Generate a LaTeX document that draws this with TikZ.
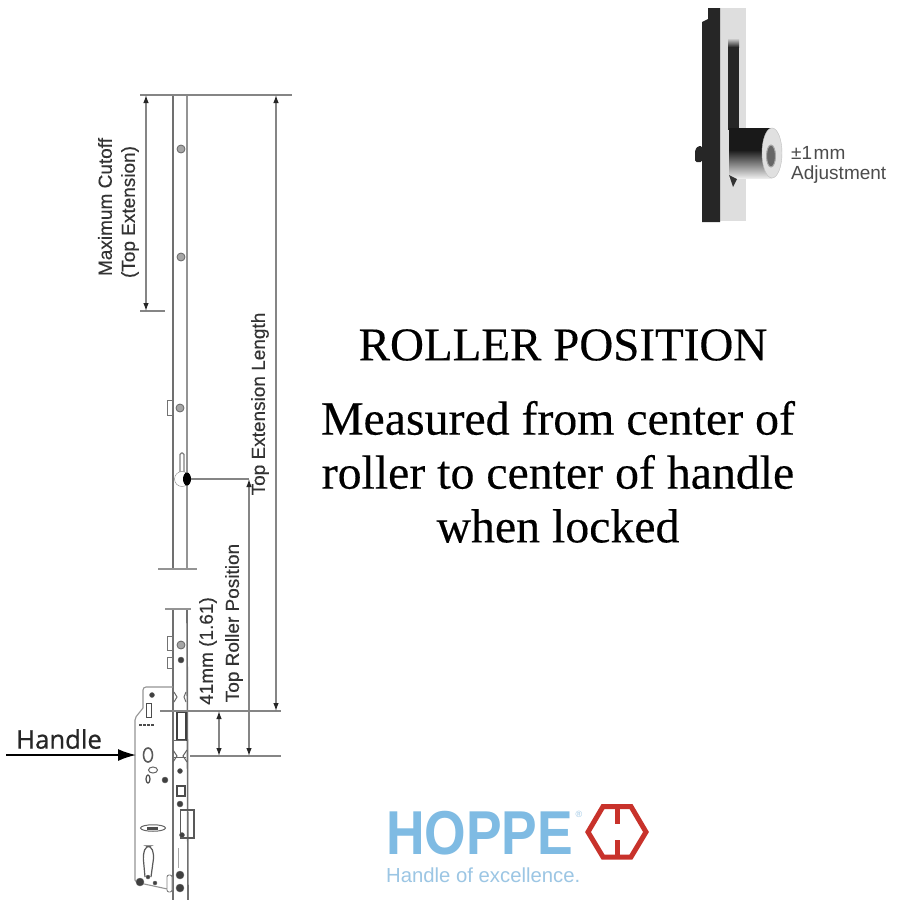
\documentclass[tikz,border=0pt]{standalone}
\usepackage{fontspec}
\setmainfont[FakeBold=0.25]{Liberation Serif}
\newfontfamily\arial{Liberation Sans}
\newfontfamily\arialm[FakeBold=0.3]{Liberation Sans}
\newfontfamily\handlefont[FakeBold=0.7]{Open Sans}
\usetikzlibrary{arrows.meta,shapes.geometric}
\definecolor{railc}{HTML}{707070}
\definecolor{dimc}{HTML}{858585}
\definecolor{labc}{HTML}{333333}
\definecolor{logob}{HTML}{7FBBE3}
\definecolor{logot}{HTML}{9CC6E4}
\definecolor{logor}{HTML}{C8322B}
\tikzset{
  rail/.style={draw=railc,line width=1.6pt},
  thin rail/.style={draw=railc!75,line width=1.1pt},
  dimline/.style={draw=dimc,line width=1.2pt},
  dimarrow/.style={dimline,{Latex[length=8pt,width=5.5pt,black!85]}-{Latex[length=8pt,width=5.5pt,black!85]}},
  dimlabel/.style={font=\arialm\fontsize{19}{21}\selectfont,text=labc,rotate=90,inner sep=0pt},
  screw/.style={draw=black!60,fill=black!35,line width=.8pt,circle,minimum size=8pt,inner sep=0pt},
  darkdot/.style={fill=black!75,draw=black!60,circle,minimum size=6pt,inner sep=0pt},
  clip rect/.style={draw=black!55,fill=white,line width=.8pt,minimum width=5.5pt,minimum height=15pt,inner sep=0pt},
  headline/.style={font=\fontsize{47}{50}\selectfont,text=black,inner sep=0pt},
  bodyline/.style={font=\fontsize{47.8}{50}\selectfont,text=black,inner sep=0pt},
  adjlabel/.style={font=\arial\fontsize{19}{21}\selectfont,text=black!70,anchor=west,inner sep=0pt},
}
\begin{document}
\begin{tikzpicture}[x=1pt,y=-1pt]
\useasboundingbox (0,0) rectangle (900,900);
\fill[white] (0,0) rectangle (900,900);

% --- coordinates of the rail and dimension lines
\coordinate (topL) at (173,95);
\coordinate (topR) at (187,95);
\coordinate (brk1L) at (173,570);
\coordinate (brk1R) at (187,570);
\coordinate (brk2L) at (173,609);
\coordinate (brk2R) at (187,609);
\coordinate (botL) at (173,900);
\coordinate (botR) at (188,900);
\coordinate (lineTopA) at (140,95);
\coordinate (lineTopB) at (292,95);
\coordinate (cutEndA) at (140,311);
\coordinate (cutEndB) at (165,311);
\coordinate (d41A) at (160,711);
\coordinate (d41B) at (281,711);
\coordinate (hdlA) at (190,756);
\coordinate (hdlB) at (281,756);
\coordinate (dimCutT) at (146,95);
\coordinate (dimCutB) at (146,311);
\coordinate (dimLenT) at (276,95);
\coordinate (dimLenB) at (276,711);
\coordinate (dimRolT) at (249,479);
\coordinate (dimRolB) at (249,756);
\coordinate (dim41T) at (219,711);
\coordinate (dim41B) at (219,756);
\coordinate (hdlStart) at (6,755);

% --- rail
\draw[rail] (topL) -- (brk1L);
\draw[thin rail] (topR) -- (brk1R);
\draw[rail] (brk2L) -- (botL);
\draw[rail] (brk2R) -- (botR);
\draw[thin rail] (158,569) -- (197,569);
\draw[thin rail] (165,609) -- (191,609);

% --- upper rail hardware
\node[screw] (s1) at (181,149) {};
\node[screw] (s2) at (181,257) {};
\node[screw] (s3) at (180,408) {};
\node[clip rect] (c1) at (170,408) {};
\draw[line width=1.2pt,draw=black!50,rounded corners=1.5pt] (180,475) -- (180,453) -- (184,453) -- (184,475);
\node[circle,draw=black!50,fill=white,minimum size=15pt,inner sep=0pt] (roller) at (182,479) {};
\node[ellipse,fill=black,minimum width=8pt,minimum height=13pt,inner sep=0pt] (rollerEnd) at (187,479) {};

% --- lower rail hardware
\node[clip rect,minimum height=14pt] (c2) at (170,643) {};
\node[clip rect,minimum height=11pt] (c3) at (170,663) {};
\node[screw] (s4) at (181,645) {};
\node[darkdot] (s5) at (181,660) {};
\node[darkdot,minimum size=5pt] (s6) at (152,695) {};

% --- lock case
\draw[thin rail,rounded corners=3pt] (173,687) -- (143,687) -- (143,708);
\draw[thin rail,rounded corners=2pt] (143,708) -- (135,718) -- (135,882) -- (172,890);
\draw[draw=black!70,line width=1pt,fill=white] (146,703) rectangle (151,717);
\draw[draw=black!70,line width=2pt,dash pattern=on 3pt off 1pt] (139,725) -- (154,725);
\draw[draw=black!75,line width=1.3pt] (177,712) rectangle (186,740);
\draw[draw=black!60,line width=1pt] (174,740) -- (186,740) (174,757) -- (186,757);
\draw[draw=black!60,line width=1pt] (173,750) -- (177,756) -- (173,762) (187,750) -- (183,756) -- (187,762);
\draw[draw=black!60,line width=1pt] (174,692) -- (177,697) -- (174,702) (186,692) -- (184,697) -- (186,702);
\node[ellipse,draw=black!65,line width=1.6pt,minimum width=9pt,minimum height=14pt,inner sep=0pt] (spindle) at (148,755) {};
\node[ellipse,draw=black!60,line width=1pt,minimum width=9pt,minimum height=6pt,inner sep=0pt] (e1) at (153,770) {};
\node[ellipse,draw=black!70,line width=1.2pt,minimum width=4pt,minimum height=8pt,inner sep=0pt] (e2) at (148,779) {};
\node[darkdot] (e3) at (165,780) {};
\node[darkdot,minimum size=5pt] (h1) at (180,771) {};
\draw[draw=black!70,line width=1.2pt] (177,786) rectangle (185,796);
\node[darkdot,minimum size=6pt] (h2) at (180,804) {};
\draw[draw=black!65,line width=1.1pt] (180,810) -- (194,810) -- (194,838) -- (180,838);
\draw[draw=black!65,line width=.9pt] (180,810) -- (180,838);
\node[darkdot,minimum size=5pt] (h3) at (182,835) {};
\node[ellipse,draw=black!60,line width=1pt,minimum width=25pt,minimum height=6.5pt,inner sep=0pt] (slotO) at (153,828) {};
\fill[black!70] (147,826.5) rectangle (158,829.5);
\draw[draw=black!65,line width=1.2pt,rounded corners=4pt] (145,877) -- (143,855) -- (146,846) -- (151,846) -- (154,855) -- (151,877);
\node[darkdot,minimum size=8pt] (k1) at (140,882) {};
\node[darkdot,minimum size=4pt] (k2) at (148,877) {};
\node[darkdot,minimum size=4pt] (k3) at (155,883) {};
\draw[draw=black!50,line width=.9pt,rounded corners=2pt,fill=white] (167,875) rectangle (172,892);
\draw[draw=black!35,line width=.8pt] (178,848) -- (178,868);
\node[darkdot,minimum size=8pt] (k4) at (180,875) {};
\node[darkdot,minimum size=8pt] (k5) at (180,888) {};

% --- dimensions
\draw[dimline] (lineTopA) -- (lineTopB);
\draw[dimline] (cutEndA) -- (cutEndB);
\draw[dimline] (d41A) -- (d41B);
\draw[dimline] (hdlA) -- (hdlB);
\draw[dimline] (rollerEnd) -- (dimRolT);
\draw[dimarrow] (dimCutT) -- (dimCutB);
\draw[dimarrow] (dimLenT) -- (dimLenB);
\draw[dimarrow] (dimRolT) -- (dimRolB);
\draw[dimarrow] (dim41T) -- (dim41B);

\node[dimlabel] (lMax) at (105,207) {Maximum Cutoff};
\node[dimlabel] (lTopE) at (130,212) {(Top Extension)};
\node[dimlabel] (lLen) at (260,404) {Top Extension Length};
\node[dimlabel] (lRol) at (234,623) {Top Roller Position};
\node[dimlabel] (l41) at (208,651) {41mm (1.61)};

% --- handle pointer
\node[font=\handlefont\fontsize{25.7}{28}\selectfont,text=black!85,inner sep=0pt] (lHandle) at (59,739) {Handle};
\coordinate (hdlEnd) at (136,755);
\draw[line width=1.7pt,black,-{Latex[length=18pt,width=12pt]}] (hdlStart) -- (hdlEnd);

% --- headings
\node[headline] (h0) at (563,345) {ROLLER POSITION};
\node[bodyline] (b1) at (558,418) {Measured from center of};
\node[bodyline] (b2) at (558,472) {roller to center of handle};
\node[bodyline] (b3) at (558,526) {when locked};

% --- roller detail (upper right)
\fill[black!13] (720,8) rectangle (746,221);
\fill[black!85] (708,8) -- (720,8) -- (720,222) -- (702,222) -- (702,22) -- (708,19) -- cycle;
\fill[black!85,rounded corners=1.5pt] (695,162) -- (695,150) -- (698,146) -- (702,146) -- (702,162) -- cycle;
\shade[top color=black!13,bottom color=black!85] (728,38) rectangle (739,47);
\fill[black!85] (728,47) rectangle (739,130);
\fill[black!90] (729,128) rectangle (772,150);
\shade[top color=black!90,bottom color=black!8] (729,150) rectangle (772,178);
\node[ellipse,fill=black!12,draw=black!25,minimum width=20pt,minimum height=50pt,inner sep=0pt] (rollFace) at (772,153) {};
\node[ellipse,fill=black!60,draw=black!35,line width=1pt,minimum width=9pt,minimum height=22pt,inner sep=0pt] (rollHole) at (771,156) {};
\fill[black!80] (729,175) -- (737,179) -- (733,187) -- cycle;
\node[adjlabel] (adj1) at (791,153) {±1\kern1.5pt mm};
\node[adjlabel] (adj2) at (791,175) {Adjustment};

% --- logo
\node[font=\arial\bfseries\fontsize{62}{66}\selectfont,text=logob,anchor=base west,inner sep=0pt,text depth=0pt,text height=44pt,xscale=.862,transform shape] (hoppe) at (386,854) {HOPPE};
\node[font=\arial\fontsize{9}{10}\selectfont,text=logot,inner sep=0pt] (reg) at (579,814) {®};
\node[font=\arial\fontsize{20.3}{22}\selectfont,text=logot,anchor=west,inner sep=0pt] (tag) at (386,875) {Handle of excellence.};
\draw[logor,line width=5pt,line join=miter] (588,832) -- (603,806.5) -- (631,806.5) -- (646,832) -- (631,857) -- (603,857) -- cycle;
\fill[logor] (614.5,806) rectangle (620,823.5);
\fill[logor] (614.5,839.5) rectangle (620,857);
\end{tikzpicture}
\end{document}
